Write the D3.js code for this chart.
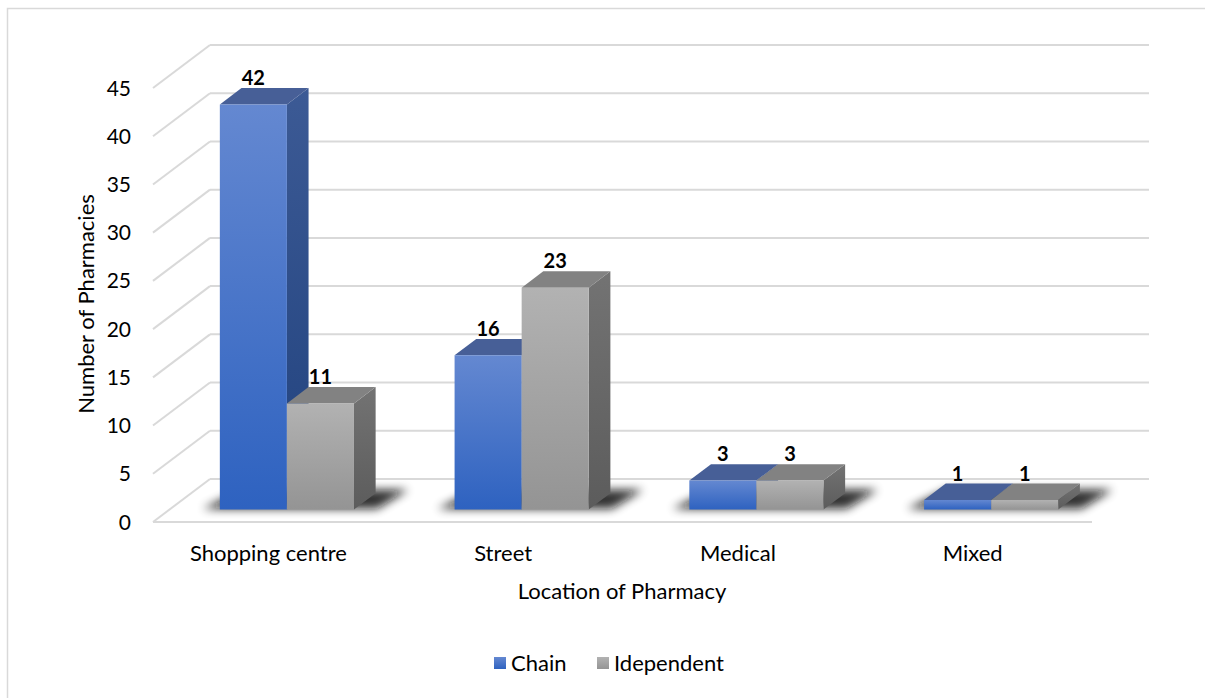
<!DOCTYPE html>
<html><head><meta charset="utf-8">
<script src="https://cdn.jsdelivr.net/npm/d3@7"></script>
<style>body{margin:0;background:#fff}svg{display:block}text{font-family:Lato,"Open Sans",sans-serif}</style>
</head><body><svg id="c" width="1205" height="698"></svg>
<script>
const categories = ["Shopping centre","Street","Medical","Mixed"];
const seriesNames = ["Chain","Idependent"];
const chainValues = [42,16,3,1];
const independentValues = [11,23,3,1];
const yTicks = [0,5,10,15,20,25,30,35,40,45];
const xTitle = "Location of Pharmacy";
const yTitle = "Number of Pharmacies";

const svg = d3.select("#c");
const defs = svg.append("defs");
svg.append("rect").attr("x",7.5).attr("y",8.5).attr("width",1240).attr("height",720)
  .attr("fill","#fff").attr("stroke","#d9d9d9").attr("stroke-width",1.5);

// geometry
const front = {x0:153, x1:1092};
const depth = {dx:57, dy:-43};
const y = d3.scaleLinear().domain([0,45]).range([522,88]);
const x = d3.scaleBand().domain(categories).range([front.x0, front.x1]).padding(0);
const bw = x.bandwidth();
const xi = d3.scaleBand().domain(seriesNames).range([bw*0.75/3.5, bw*2.75/3.5]).padding(0);
const d0 = 0.29, d1 = 0.67;
const P = (px, v, d) => [px + d*depth.dx, y(v) + d*depth.dy];

// gradients
function lin(id, c1, c2){
  const g = defs.append("linearGradient").attr("id",id).attr("x1",0).attr("y1",0).attr("x2",0).attr("y2",1);
  g.append("stop").attr("offset","0%").attr("stop-color",c1);
  g.append("stop").attr("offset","100%").attr("stop-color",c2);
}
lin("chainFront","#6488d1","#2e62c0");
lin("chainSide","#3c5a95","#21427e");
lin("indFront","#b2b2b2","#949494");
lin("indSide","#737373","#5c5c5c");
defs.append("filter").attr("id","blur").attr("x","-50%").attr("y","-50%").attr("width","200%").attr("height","200%")
  .append("feGaussianBlur").attr("stdDeviation",5);

const styles = {
  "Chain": {front:"url(#chainFront)", side:"url(#chainSide)", top:"#475f97"},
  "Idependent": {front:"url(#indFront)", side:"url(#indSide)", top:"#828282"}
};

const grid = svg.append("g").attr("stroke","#d9d9d9").attr("stroke-width",2).attr("fill","none");
yTicks.forEach(v=>{
  const a = P(front.x0, v, 1), b = P(front.x1, v, 1);
  grid.append("line").attr("x1",a[0]).attr("y1",a[1]).attr("x2",b[0]).attr("y2",b[1]);
  const c = P(front.x0, v, 0);
  grid.append("line").attr("x1",c[0]).attr("y1",c[1]).attr("x2",a[0]).attr("y2",a[1]);
});
grid.append("line").attr("x1",front.x0).attr("y1",y(0)).attr("x2",front.x1).attr("y2",y(0));

// y tick labels
svg.append("g").selectAll("text").data(yTicks).join("text")
  .attr("x",131).attr("y",v=>y(v)).attr("dy","0.36em").attr("text-anchor","end")
  .attr("font-size",21).attr("fill","#000").text(v=>v);

// shadows
const shadowG = svg.append("g").attr("filter","url(#blur)").attr("opacity",0.85);
categories.forEach(cat=>{
  const xl = x(cat)+xi("Chain")-18, xr = x(cat)+xi("Idependent")+xi.bandwidth()+22;
  const pts = [P(xl,0,d0+0.02), P(xr,0,d0+0.02), P(xr+6,0,d1+0.08), P(xl+14,0,d1+0.08)];
  shadowG.append("polygon").attr("points",pts.map(p=>p.join(",")).join(" ")).attr("fill","#111");
});

// bars
const data = [];
categories.forEach((cat,i)=>{
  data.push({cat, s:"Chain", v:chainValues[i]});
  data.push({cat, s:"Idependent", v:independentValues[i]});
});
const barG = svg.append("g");
data.forEach(d=>{
  const xa = x(d.cat)+xi(d.s), xb = xa + xi.bandwidth();
  const st = styles[d.s];
  const poly = (pts, fill)=>barG.append("polygon").attr("points",pts.map(p=>p.join(",")).join(" ")).attr("fill",fill);
  poly([P(xb,0,d0),P(xb,0,d1),P(xb,d.v,d1),P(xb,d.v,d0)], st.side);
  poly([P(xa,d.v,d0),P(xb,d.v,d0),P(xb,d.v,d1),P(xa,d.v,d1)], st.top);
  poly([P(xa,0,d0),P(xb,0,d0),P(xb,d.v,d0),P(xa,d.v,d0)], st.front);
});
// data labels
svg.append("g").selectAll("text").data(data).join("text")
  .attr("x",d=>P(x(d.cat)+xi(d.s)+xi.bandwidth()/2,d.v,d0)[0])
  .attr("y",d=>P(0,d.v,d1)[1]-3)
  .attr("text-anchor","middle").attr("font-size",20).attr("font-weight","bold").attr("fill","#000")
  .text(d=>d.v);

// category labels
svg.append("g").selectAll("text").data(categories).join("text")
  .attr("x",c=>x(c)+bw/2-2).attr("y",553).attr("dy","0.36em").attr("text-anchor","middle")
  .attr("font-size",22).attr("fill","#000").text(c=>c);

// axis titles
svg.append("text").attr("x",622).attr("y",591).attr("dy","0.36em").attr("text-anchor","middle")
  .attr("font-size",22).attr("fill","#000").text(xTitle);
svg.append("text").attr("transform","translate(86,304) rotate(-90)").attr("dy","0.36em").attr("text-anchor","middle")
  .attr("font-size",22).attr("fill","#000").text(yTitle);

// legend
const legend = svg.append("g");
const legendItems = [{name:"Chain", fill:"url(#chainFront)", x:494},{name:"Idependent", fill:"url(#indFront)", x:597}];
legendItems.forEach(it=>{
  legend.append("rect").attr("x",it.x).attr("y",657).attr("width",12).attr("height",12).attr("fill",it.fill);
  legend.append("text").attr("x",it.x+17).attr("y",663).attr("dy","0.36em").attr("font-size",22).attr("fill","#000").text(it.name);
});
</script></body></html>
